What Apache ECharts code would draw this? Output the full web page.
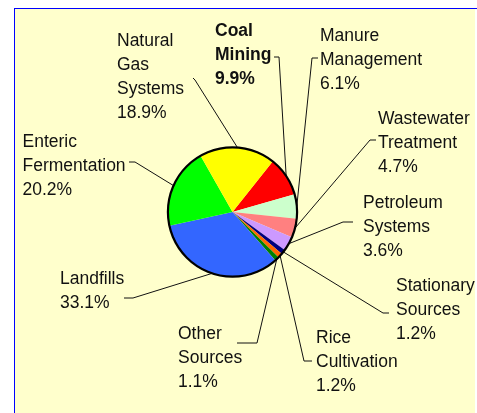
<!DOCTYPE html>
<html>
<head>
<meta charset="utf-8">
<script src="https://cdn.jsdelivr.net/npm/echarts@6/dist/echarts.min.js"></script>
<style>
html,body{margin:0;padding:0;background:#fff;}
#wrap{position:relative;width:477px;height:413px;overflow:hidden;background:#fff;}
#panel{position:absolute;left:14px;top:8px;width:461px;height:405px;background:#FFFFCC;border-left:1px solid #0000FF;border-top:1px solid #0000FF;box-sizing:border-box;}
#topline{position:absolute;left:14px;top:8px;width:463px;height:1px;background:#0000FF;}
#chart{position:absolute;left:0;top:0;width:477px;height:413px;}
</style>
</head>
<body>
<div id="wrap">
  <div id="panel"></div>
  <div id="topline"></div>
  <div id="chart"></div>
</div>
<script>
// Data (clockwise order starting at Coal Mining)
const categories = [
  "Coal\nMining",
  "Manure\nManagement",
  "Wastewater\nTreatment",
  "Petroleum\nSystems",
  "Stationary\nSources",
  "Rice\nCultivation",
  "Other\nSources",
  "Landfills",
  "Enteric\nFermentation",
  "Natural\nGas\nSystems"
];
const values = [9.9, 6.1, 4.7, 3.6, 1.2, 1.2, 1.1, 33.1, 20.2, 18.9];
const colors = ["#FF0000", "#CCFFCC", "#FF8080", "#CC99FF", "#000080", "#FF6600", "#008000", "#3366FF", "#00FF00", "#FFFF00"];
const boldIndex = 0;

// Label layout (left x, top y of text block) and label-line bend/end points
const labelPos = [
  [215, 19], [320, 24], [378, 107.5], [363, 191.5], [396, 274],
  [316, 326.5], [178, 322], [60, 267], [22.5, 130.5], [117, 29]
];
const lineBends = [
  [[279, 57], [274, 57]],
  [[312, 58], [318, 58]],
  [[370, 140], [376, 140]],
  [[343, 222], [353, 222]],
  [[383, 313], [389, 313]],
  [[304, 361], [312, 361]],
  [[257, 343], [237, 343]],
  [[133, 298], [124, 298]],
  [[135, 162], [129, 162]],
  [[195, 80], [193, 78]]
];

const chart = echarts.init(document.getElementById('chart'), null, {renderer: 'canvas'});
const FONT = '"Liberation Sans", Arial, sans-serif';

const data = categories.map((name, i) => {
  const d = { name: name, value: values[i], itemStyle: { color: colors[i] } };
  if (i === boldIndex) d.label = { fontWeight: 'bold' };
  return d;
});

const center = [232.5, 212];

chart.setOption({
  backgroundColor: 'transparent',
  animation: false,
  series: [
    {
      type: 'pie',
      center: center,
      radius: 64.5,
      startAngle: 51.5,
      clockwise: true,
      avoidLabelOverlap: false,
      itemStyle: { borderWidth: 0 },
      label: {
        show: true,
        position: 'outside',
        formatter: '{b}\n{c}%',
        fontFamily: FONT,
        fontSize: 17.5,
        lineHeight: 24,
        color: '#111',
        align: 'left'
      },
      labelLine: {
        show: true,
        lineStyle: { color: '#111', width: 1 }
      },
      labelLayout: function (params) {
        const i = params.dataIndex;
        const p0 = params.labelLinePoints ? params.labelLinePoints[0] : null;
        const res = {
          x: labelPos[i][0],
          y: labelPos[i][1],
          align: 'left',
          verticalAlign: 'top'
        };
        if (p0) {
          res.labelLinePoints = [p0, lineBends[i][0], lineBends[i][1]];
        }
        return res;
      },
      emphasis: { disabled: true },
      data: data,
      z: 2
    },
    {
      type: 'pie',
      center: center,
      radius: [63.5, 65.7],
      silent: true,
      label: { show: false },
      labelLine: { show: false },
      itemStyle: { color: '#000', borderWidth: 0 },
      emphasis: { disabled: true },
      data: [{ value: 1, name: '' }],
      z: 3
    }
  ]
});
</script>
</body>
</html>
